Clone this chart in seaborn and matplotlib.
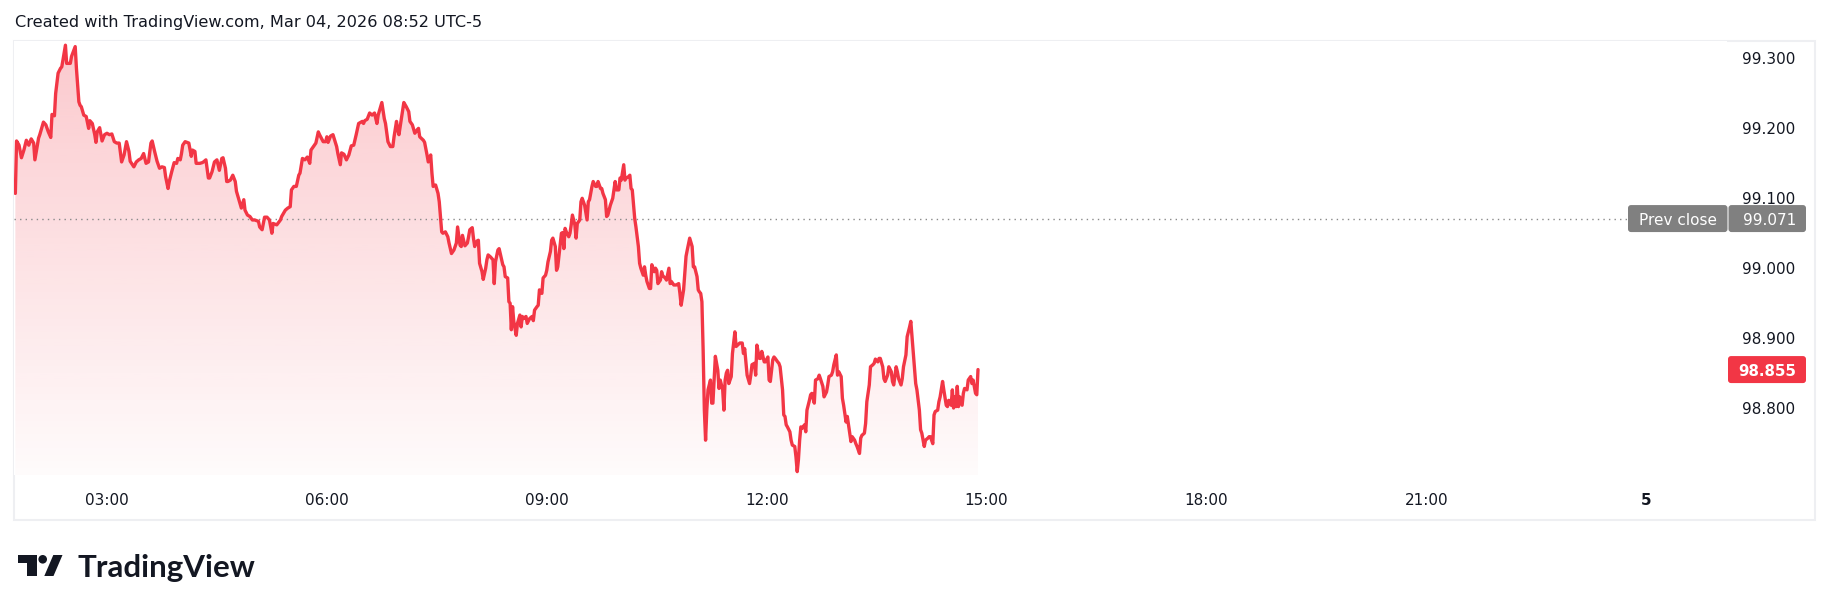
import numpy as np
import pandas as pd
import matplotlib
matplotlib.use("Agg")
import matplotlib.pyplot as plt
import seaborn as sns
from matplotlib.patches import FancyBboxPatch, Rectangle, Circle, Polygon
from matplotlib.transforms import IdentityTransform

# ---------------- data (minutes since midnight, price) ----------------
minutes = [
    105, 106, 108, 110, 112, 114, 116, 118, 120, 121, 124, 125, 128, 130, 132, 134, 135, 137, 138, 140,
    142, 143, 144, 146, 147, 150, 151, 154, 155, 157, 158, 159, 161, 163, 165, 166, 168, 170, 171, 172,
    174, 176, 178, 180, 182, 184, 186, 188, 190, 192, 194, 196, 198, 199, 202, 204, 206, 208, 210, 212,
    214, 216, 217, 219, 221, 223, 225, 227, 228, 230, 231, 233, 235, 237, 238, 240, 241, 242, 244, 247,
    249, 250, 252, 253, 256, 258, 259, 261, 263, 264, 266, 268, 270, 272, 274, 275, 277, 278, 279, 281,
    283, 285, 286, 288, 290, 292, 293, 295, 297, 299, 301, 304, 305,
    307, 309, 311, 313, 315, 316, 319, 322, 323, 326, 328, 330, 331, 333, 335, 337, 338, 340, 342, 344,
    346, 347, 349, 351, 353, 354, 357, 359, 360, 361, 363, 365, 368, 369, 371, 372, 374, 376, 378, 380,
    382, 384, 386, 389, 390, 391, 393, 395, 397, 399, 401, 402, 405, 407, 408, 410, 412, 414, 415, 417,
    418, 419, 421, 423, 425, 427, 428, 430, 432, 434, 435, 436, 439, 440, 442, 443, 445, 446, 447, 449,
    451, 452, 454, 455, 457, 459, 460, 462, 464, 466, 467, 469, 470, 471, 473, 475, 476, 477, 479, 480,
    481, 483, 484, 485, 487, 488, 490, 491, 492, 494, 496, 497, 498, 500, 501,
    504, 505, 506, 508, 509, 510, 511, 512, 513, 515, 516, 518, 519, 520, 521, 523, 524, 526, 528, 529,
    530, 532, 533, 534, 536, 537, 539, 540, 541, 543, 544, 545, 547, 548, 549, 552, 553, 554, 555, 556,
    558, 559, 560, 561, 563, 564, 565, 567, 568, 569, 571, 573, 574, 575, 577, 578, 580, 581, 582, 584,
    585, 586, 588, 589, 590, 592, 594, 596, 597, 599, 600, 601, 603, 604, 605, 607, 608, 609, 610, 612,
    613, 614, 615, 616, 617, 619, 620, 621, 622, 624, 625, 626, 628, 629, 630, 631, 633, 634, 635, 637,
    638, 640, 641, 642, 644, 646, 648, 649, 650, 652, 653, 654, 655, 657, 659, 660, 661, 663, 664, 665,
    666, 667, 668, 669, 670, 671, 672, 674, 675, 676, 677, 678, 680, 681, 682, 684, 685, 686, 687, 688,
    689, 691, 692, 694, 695, 698,
    700, 701, 702, 703, 704, 706, 707, 708, 710, 711, 712, 714, 715, 716, 718, 719, 721, 722, 723, 725,
    726, 727, 729, 730, 731, 733, 734, 735, 736, 737, 739, 740, 741, 743, 744, 745, 746, 747, 748, 749,
    751, 752, 753, 755, 756, 757, 759, 760, 762, 763, 764, 766, 767, 769, 770, 771, 773, 774, 775, 777,
    778, 779, 781, 782, 783, 785, 786, 787, 789, 790, 792, 793, 794, 796, 797, 798, 800, 801, 802, 804,
    805, 807, 808, 809, 811, 812, 813, 815, 816, 817, 819, 820, 822, 823, 824, 826, 827, 828, 830, 831,
    832, 834, 835, 837, 838, 839, 841, 842, 843, 845, 846, 847, 849, 850, 852, 853, 854, 856, 857, 858,
    860, 861, 862, 864, 865, 867, 868, 869, 871, 872, 873, 874, 875, 876, 877, 878, 880, 881, 882, 884,
    885, 887, 888, 889, 891, 892, 893,
]
prices = [
    99.107, 99.182, 99.176, 99.158, 99.169, 99.183, 99.176, 99.185, 99.179, 99.155, 99.186, 99.191, 99.209, 99.205, 99.195, 99.187, 99.220, 99.218, 99.250, 99.279,
    99.286, 99.288, 99.298, 99.319, 99.293, 99.293, 99.303, 99.317, 99.286, 99.238, 99.233, 99.231, 99.219, 99.217, 99.200, 99.211, 99.207, 99.191, 99.180, 99.195,
    99.201, 99.182, 99.191, 99.193, 99.191, 99.192, 99.181, 99.179, 99.179, 99.152, 99.162, 99.181, 99.167, 99.153, 99.145, 99.152, 99.155, 99.157, 99.164, 99.150,
    99.152, 99.179, 99.182, 99.167, 99.153, 99.143, 99.145, 99.144, 99.131, 99.114, 99.124, 99.138, 99.151, 99.150, 99.157, 99.155, 99.164, 99.176, 99.181, 99.179,
    99.160, 99.169, 99.167, 99.150, 99.150, 99.151, 99.152, 99.155, 99.129, 99.129, 99.138, 99.152, 99.155, 99.140, 99.157, 99.158, 99.143, 99.124, 99.124, 99.126,
    99.133, 99.124, 99.110, 99.098, 99.086, 99.098, 99.083, 99.076, 99.074, 99.069, 99.069, 99.067, 99.059,
    99.055, 99.073, 99.073, 99.069, 99.050, 99.064, 99.062, 99.069, 99.074, 99.083, 99.086, 99.088, 99.112, 99.117, 99.117, 99.133, 99.136, 99.157, 99.155, 99.159,
    99.150, 99.169, 99.174, 99.179, 99.195, 99.191, 99.181, 99.181, 99.188, 99.180, 99.189, 99.191, 99.174, 99.164, 99.148, 99.165, 99.163, 99.155, 99.162, 99.175,
    99.176, 99.191, 99.207, 99.210, 99.207, 99.211, 99.213, 99.222, 99.219, 99.222, 99.207, 99.219, 99.237, 99.214, 99.207, 99.181, 99.174, 99.174, 99.188, 99.210,
    99.198, 99.191, 99.214, 99.237, 99.231, 99.224, 99.210, 99.205, 99.193, 99.198, 99.200, 99.188, 99.183, 99.180, 99.162, 99.152, 99.162, 99.136, 99.117, 99.119,
    99.107, 99.095, 99.052, 99.050, 99.052, 99.045, 99.036, 99.021, 99.026, 99.036, 99.059, 99.033, 99.031, 99.047, 99.032, 99.036, 99.045, 99.055, 99.058, 99.043,
    99.031, 99.039, 99.040, 99.007, 98.995, 98.984, 99.000, 99.012, 99.019, 99.016, 99.012, 98.978, 99.009, 99.026, 99.028,
    99.005, 99.002, 98.988, 98.986, 98.952, 98.950, 98.912, 98.945, 98.924, 98.904, 98.921, 98.933, 98.916, 98.931, 98.928, 98.931, 98.921, 98.928, 98.931, 98.925,
    98.940, 98.945, 98.947, 98.969, 98.964, 98.986, 98.990, 98.997, 99.009, 99.024, 99.040, 99.043, 99.031, 98.997, 99.002, 99.050, 99.051, 99.028, 99.057, 99.052,
    99.045, 99.050, 99.062, 99.076, 99.062, 99.043, 99.064, 99.069, 99.095, 99.100, 99.090, 99.069, 99.095, 99.098, 99.117, 99.124, 99.117, 99.117, 99.124, 99.114,
    99.114, 99.107, 99.098, 99.074, 99.076, 99.090, 99.100, 99.124, 99.112, 99.112, 99.129, 99.126, 99.148, 99.126, 99.129, 99.131, 99.133, 99.114, 99.112, 99.071,
    99.059, 99.045, 99.031, 99.007, 99.000, 98.990, 99.002, 98.990, 98.981, 98.971, 98.971, 99.005, 98.995, 99.000, 98.997, 98.978, 98.983, 98.995, 98.989, 98.986,
    98.983, 99.000, 98.978, 98.981, 98.976, 98.976, 98.978, 98.964, 98.947, 98.969, 98.993, 99.017, 99.026, 99.043, 99.031, 99.002, 99.002, 98.988, 98.969, 98.966,
    98.964, 98.952, 98.883, 98.797, 98.754, 98.797, 98.826, 98.840, 98.807, 98.807, 98.840, 98.874, 98.854, 98.828, 98.840, 98.826, 98.797, 98.840, 98.850, 98.854,
    98.835, 98.845, 98.878, 98.909, 98.888, 98.893,
    98.893, 98.878, 98.885, 98.866, 98.847, 98.835, 98.847, 98.862, 98.864, 98.847, 98.890, 98.871, 98.871, 98.881, 98.866, 98.866, 98.873, 98.840, 98.838, 98.869,
    98.873, 98.871, 98.866, 98.864, 98.859, 98.826, 98.790, 98.788, 98.776, 98.773, 98.766, 98.754, 98.747, 98.745, 98.730, 98.709, 98.726, 98.754, 98.773, 98.771,
    98.776, 98.766, 98.797, 98.811, 98.819, 98.821, 98.807, 98.840, 98.842, 98.847, 98.842, 98.831, 98.816, 98.823, 98.833, 98.845, 98.847, 98.852, 98.862, 98.876,
    98.847, 98.852, 98.845, 98.814, 98.804, 98.780, 98.788, 98.776, 98.752, 98.759, 98.754, 98.749, 98.745, 98.735, 98.757, 98.761, 98.764, 98.778, 98.809, 98.833,
    98.859, 98.862, 98.864, 98.870, 98.866, 98.871, 98.871, 98.859, 98.842, 98.838, 98.847, 98.859, 98.852, 98.838, 98.833, 98.859, 98.852, 98.842, 98.833, 98.842,
    98.859, 98.876, 98.902, 98.916, 98.924, 98.902, 98.859, 98.835, 98.826, 98.797, 98.769, 98.764, 98.745, 98.754, 98.757, 98.759, 98.759, 98.749, 98.790, 98.795,
    98.797, 98.809, 98.816, 98.838, 98.826, 98.804, 98.802, 98.811, 98.804, 98.826, 98.800, 98.816, 98.802, 98.831, 98.802, 98.816, 98.804, 98.821, 98.828, 98.826,
    98.840, 98.845, 98.835, 98.840, 98.821, 98.819, 98.855,
]
prev_close = 99.071
last_price = 98.855
x_tick_minutes = [180, 360, 540, 720, 900, 1080, 1260, 1440]
x_tick_labels = ["03:00", "06:00", "09:00", "12:00", "15:00", "18:00", "21:00", "5"]
y_ticks = [98.8, 98.9, 99.0, 99.1, 99.2, 99.3]
title_text = "Created with TradingView.com, Mar 04, 2026 08:52 UTC-5"
brand_text = "TradingView"

# ---------------- style ----------------
sns.set_theme(style="white")
plt.rcParams['font.family'] = ['DejaVu Sans']
RED = "#f23645"
INK = "#131722"
GRAY_BOX = "#808080"

W, H = 1830, 611
fig = plt.figure(figsize=(W / 100, H / 100), dpi=100)
fig.patch.set_facecolor("white")

pane_l, pane_r, pane_t, pane_b = 14, 1727, 41, 475
ax = fig.add_axes([pane_l / W, 1 - pane_b / H, (pane_r - pane_l) / W, (pane_b - pane_t) / H])
ax.set_facecolor("white")

df = pd.DataFrame({"minute": minutes, "price": prices})
XMIN, XMAX = 103.9, 1506.1
YMIN, YMAX = 98.7042, 99.325

# gradient area fill
poly = ax.fill_between(df["minute"], df["price"], YMIN, color="none", lw=0)
grad = np.zeros((256, 1, 4))
grad[..., 0] = 242 / 255
grad[..., 1] = 54 / 255
grad[..., 2] = 69 / 255
grad[:, 0, 3] = np.linspace(0.27, 0.02, 256)
im = ax.imshow(grad, extent=[XMIN, XMAX, YMIN, YMAX], aspect="auto", origin="upper", zorder=1)
im.set_clip_path(poly.get_paths()[0], transform=ax.transData)

# line
sns.lineplot(data=df, x="minute", y="price", ax=ax, color=RED, lw=2.4,
             estimator=None, sort=False, zorder=3)
for ln in ax.get_lines():
    ln.set_solid_joinstyle("round")
    ln.set_solid_capstyle("round")

ax.set_xlim(XMIN, XMAX)
ax.set_ylim(YMIN, YMAX)
ax.set_xlabel("")
ax.set_ylabel("")
for s in ax.spines.values():
    s.set_visible(False)
ax.grid(False)

# prev close dotted line
ax.axhline(prev_close, xmin=0, xmax=(1628 - pane_l) / (pane_r - pane_l), color="#8a8a8a",
           lw=1.0, ls=(0, (1, 3)), zorder=2)

# ticks
ax.set_xticks(x_tick_minutes, x_tick_labels)
ax.tick_params(axis="x", length=0, pad=12.7, labelsize=11, labelcolor=INK)
ax.get_xticklabels()[-1].set_fontweight("bold")
ax.yaxis.tick_right()
ax.set_yticks(y_ticks, [f"{v:.3f}" for v in y_ticks])
ax.tick_params(axis="y", length=0, pad=11.0, labelsize=11, labelcolor=INK)

# outer frame
fig.add_artist(Rectangle((14 / W, 1 - 520 / H), (1815 - 14) / W, (520 - 41) / H,
                         transform=fig.transFigure, fill=False, ec="#eeeff2", lw=1.5, zorder=0))

# price labels (pixel space)
ident = IdentityTransform()

def ypix(v):
    return ax.transData.transform((XMIN, v))[1]

yp = ypix(prev_close)
bh = 27
fig.add_artist(FancyBboxPatch((1628, yp - bh / 2), 1727.5 - 1628, bh,
                              boxstyle="round,pad=0,rounding_size=3", transform=ident,
                              fc=GRAY_BOX, ec="none", zorder=5))
fig.add_artist(FancyBboxPatch((1728.5, yp - bh / 2), 1806 - 1728.5, bh,
                              boxstyle="round,pad=0,rounding_size=3", transform=ident,
                              fc=GRAY_BOX, ec="none", zorder=5))
fig.text(1678, yp, "Prev close", transform=ident, ha="center", va="center_baseline",
         color="white", fontsize=11, zorder=6)
fig.text(1796, yp, f"{prev_close:.3f}", transform=ident, ha="right", va="center_baseline",
         color="white", fontsize=11, zorder=6)

yl = ypix(last_price)
fig.add_artist(FancyBboxPatch((1728, yl - bh / 2), 1806 - 1728, bh,
                              boxstyle="round,pad=0,rounding_size=3", transform=ident,
                              fc=RED, ec="none", zorder=5))
fig.text(1796, yl, f"{last_price:.3f}", transform=ident, ha="right", va="center_baseline",
         color="white", fontsize=10.8, fontweight="bold", zorder=6)

# title
fig.text(15 / W, 1 - 23 / H, title_text, ha="left", va="center", fontsize=11.6, color=INK)

# logo
def P(x, y):
    return (x / W, 1 - y / H)

fig.add_artist(Polygon([P(18.3, 555), P(36.7, 555), P(36.7, 576), P(27.3, 576), P(27.3, 563.3), P(18.3, 563.3)],
                       closed=True, transform=fig.transFigure, fc=INK, ec="none"))
fig.add_artist(Circle((42.7, H - 559.3), 4.3, transform=ident, fc=INK, ec="none"))
fig.add_artist(Polygon([P(53.3, 555), P(62.5, 555), P(53.5, 576), P(44.3, 576)],
                       closed=True, transform=fig.transFigure, fc=INK, ec="none"))
fig.text(77 / W, 1 - 577 / H, brand_text, ha="left", va="baseline", fontsize=22.5,
         fontweight="bold", family=["Lato", "DejaVu Sans"], color=INK)

fig.savefig("out.png", dpi=100, facecolor="white")
